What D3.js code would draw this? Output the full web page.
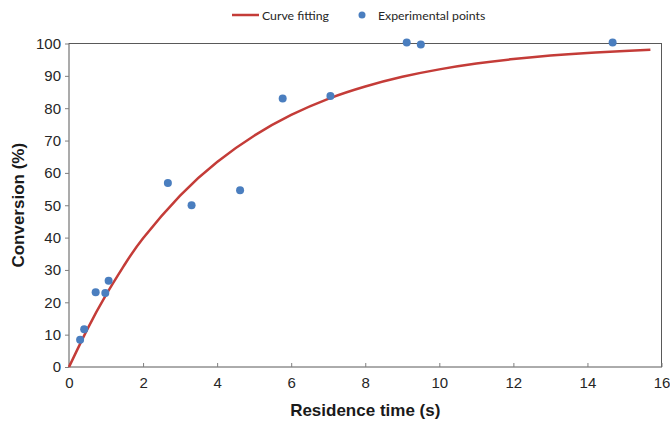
<!DOCTYPE html>
<html>
<head>
<meta charset="utf-8">
<script src="https://cdn.jsdelivr.net/npm/d3@7"></script>
<style>
  body { margin: 0; background: #fff; }
  svg { display: block; }
</style>
</head>
<body>
<svg id="chart"></svg>
<script>
// experimental points: residence time (s), conversion (%)
const expTime = [0.30, 0.41, 0.72, 0.98, 1.07, 2.67, 3.31, 4.62, 5.77, 7.06, 9.12, 9.50, 14.68];
const expConv = [8.4, 11.7, 23.1, 22.9, 26.7, 56.9, 50.0, 54.6, 83.0, 83.8, 100.3, 99.7, 100.3];

// fitted curve
const fitTime = [0, 0.5, 1, 1.5, 2, 3, 4, 5, 6, 7, 8, 9, 10, 11, 12, 13, 14, 15, 15.7];
const fitConv = [0, 11.8, 22.3, 31.6, 39.8, 53, 63.4, 71.5, 77.9, 82.9, 86.7, 89.7, 92.0, 93.8, 95.2, 96.3, 97.1, 97.7, 98.1];

const xTicks = d3.range(0, 17, 2);
const yTicks = d3.range(0, 101, 10);

const width = 670; // pixels
const height = 425; // pixels
const margin = {top: 43.5, right: 8.5, bottom: 58, left: 69};

const x = d3.scaleLinear([0, 16], [margin.left, width - margin.right]);
const y = d3.scaleLinear([0, 100], [height - margin.bottom, margin.top]);

const svg = d3.select("#chart").attr("width", width).attr("height", height);

const axisColor = "#7f7f7f";
const labelColor = "#262626";

// frame
svg.append("rect")
    .attr("x", x(0)).attr("y", y(100))
    .attr("width", x(16) - x(0)).attr("height", y(0) - y(100))
    .attr("fill", "none").attr("stroke", "#595959").attr("stroke-width", 1);

const xAxis = g => g
    .attr("transform", `translate(0,${y(0)})`)
    .call(d3.axisBottom(x).tickValues(xTicks).tickSizeInner(-4).tickSizeOuter(0).tickPadding(10))
    .call(g => g.select(".domain").remove())
    .call(g => g.selectAll(".tick line").attr("stroke", axisColor))
    .call(g => g.selectAll(".tick text")
        .attr("fill", labelColor)
        .attr("font-family", "'Liberation Sans', Arial, sans-serif")
        .attr("font-size", 15));

const yAxis = g => g
    .attr("transform", `translate(${x(0)},0)`)
    .call(d3.axisLeft(y).tickValues(yTicks).tickSizeInner(4).tickSizeOuter(0).tickPadding(4))
    .call(g => g.select(".domain").remove())
    .call(g => g.selectAll(".tick line").attr("stroke", axisColor))
    .call(g => g.selectAll(".tick text")
        .attr("fill", labelColor)
        .attr("font-family", "'Liberation Sans', Arial, sans-serif")
        .attr("font-size", 15));

svg.append("g").call(xAxis);
svg.append("g").call(yAxis);

// axis titles
svg.append("text")
    .attr("x", (x(0) + x(16)) / 2).attr("y", 416)
    .attr("text-anchor", "middle")
    .attr("font-family", "'Liberation Sans', Arial, sans-serif")
    .attr("font-weight", "bold").attr("font-size", 17)
    .attr("fill", "#1a1a1a")
    .text("Residence time (s)");

svg.append("text")
    .attr("transform", `translate(24,${(y(0) + y(100)) / 2}) rotate(-90)`)
    .attr("text-anchor", "middle")
    .attr("font-family", "'Liberation Sans', Arial, sans-serif")
    .attr("font-weight", "bold").attr("font-size", 17)
    .attr("fill", "#1a1a1a")
    .text("Conversion (%)");

// fitted curve
const fit = fitTime.map((t, i) => [t, fitConv[i]]);
const line = d3.line().x(d => x(d[0])).y(d => y(d[1])).curve(d3.curveNatural);
svg.append("path")
    .datum(fit)
    .attr("fill", "none")
    .attr("stroke", "#c43c38")
    .attr("stroke-width", 2.5)
    .attr("d", line);

// experimental points
const pts = expTime.map((t, i) => [t, expConv[i]]);
svg.append("g")
    .selectAll("circle")
    .data(pts)
    .join("circle")
    .attr("cx", d => x(d[0]))
    .attr("cy", d => y(d[1]))
    .attr("r", 4)
    .attr("fill", "#4a7ebf");

// legend
const legend = svg.append("g")
    .attr("font-family", "Lato, 'Open Sans', sans-serif")
    .attr("font-size", 12.3)
    .attr("fill", "#262626");
legend.append("line")
    .attr("x1", 232).attr("x2", 259).attr("y1", 15).attr("y2", 15)
    .attr("stroke", "#c43c38").attr("stroke-width", 2.5);
legend.append("text").attr("x", 262).attr("y", 19.5).text("Curve fitting");
legend.append("circle").attr("cx", 362).attr("cy", 15).attr("r", 3.5).attr("fill", "#4a7ebf");
legend.append("text").attr("x", 378).attr("y", 19.5).text("Experimental points");
</script>
</body>
</html>
